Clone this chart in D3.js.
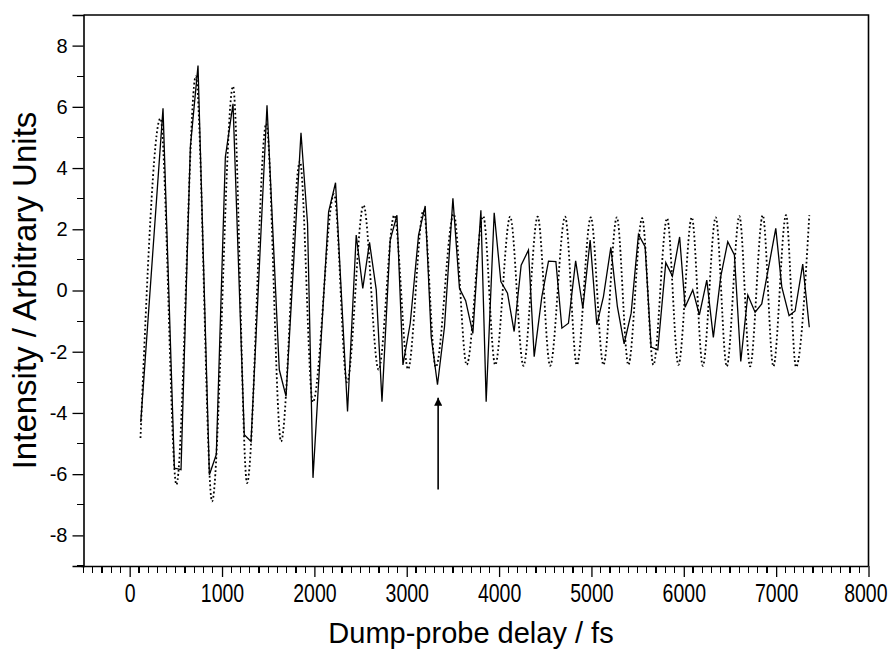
<!DOCTYPE html>
<html>
<head>
<meta charset="utf-8">
<script src="https://cdn.jsdelivr.net/npm/d3@7"></script>
<style>
    body { margin: 0; background: #fff; }
    #chart { width: 889px; height: 651px; }
    .axis path, .axis line { stroke: #000; }
    .axis text { fill: #000; }
</style>
</head>
<body>
<div id="chart"></div>
<script>

// measured trace (solid): delay in fs, intensity
const delays = [120, 361, 484, 556, 657, 740, 863, 938, 1036, 1119, 1241, 1314, 1487, 1620, 1693, 1855, 1926, 1985,
    2154, 2229, 2359, 2453, 2524, 2597, 2670, 2732, 2821, 2894, 2959, 3038, 3128, 3200, 3265, 3333, 3409, 3500,
    3571, 3638, 3716, 3803, 3860, 3947, 4019, 4091, 4163, 4239, 4318, 4380, 4463, 4535, 4615, 4680, 4751, 4829,
    4907, 4986, 5058, 5130, 5210, 5281, 5354, 5430, 5509, 5581, 5646, 5719, 5805, 5877, 5955, 6014, 6097, 6169,
    6249, 6320, 6400, 6476, 6548, 6617, 6693, 6772, 6844, 6916, 6996, 7061, 7140, 7205, 7288, 7359]
const signal = [-4.3, 5.95, -5.8, -5.85, 4.69, 7.35, -6.02, -5.36, 4.36, 6.1, -4.71, -4.93, 6.05, -2.59, -3.46, 5.15, 2.19, -6.12,
    2.57, 3.52, -3.95, 1.81, 0.07, 1.57, 0.02, -3.63, 1.65, 2.46, -2.43, -1.07, 1.81, 2.76, -1.51, -3.08, -1.18, 3.01,
    0.07, -0.33, -1.4, 2.62, -3.63, 2.54, 0.29, -0.09, -1.34, 0.83, 1.32, -2.16, -0.2, 0.96, 0.94, -1.23, -1.07, 0.97,
    -0.58, 1.65, -1.12, -0.2, 1.41, -0.53, -1.74, -0.74, 1.83, 1.43, -1.85, -1.94, 0.91, 0.47, 1.75, -0.55, 0.02, -0.8,
    0.34, -1.53, 0.45, 1.59, 1.16, -2.32, -0.15, -0.71, -0.44, 0.72, 2.03, 0.12, -0.82, -0.67, 0.86, -1.2]

// fitted trace (dotted): turning points
const fitDelays = [117, 333, 506, 716, 892, 1119, 1271, 1479, 1639, 1844, 1983, 2213, 2353, 2532, 2695, 2865, 3014,
    3182, 3314, 3509, 3649, 3828, 3958, 4120, 4264, 4418, 4553, 4715, 4842, 4993, 5130, 5275, 5400, 5549, 5671,
    5819, 5942, 6087, 6206, 6346, 6465, 6602, 6718, 6855, 6970, 7107, 7215, 7359]
const fitValues = [-4.82, 5.62, -6.34, 7.0, -6.89, 6.67, -6.29, 5.45, -4.93, 4.22, -3.65, 3.15, -3.0, 2.79, -2.59, 2.46, -2.57,
    2.62, -2.5, 2.5, -2.43, 2.43, -2.43, 2.41, -2.46, 2.41, -2.46, 2.41, -2.43, 2.39, -2.43, 2.39, -2.43, 2.36, -2.43,
    2.36, -2.43, 2.39, -2.46, 2.39, -2.48, 2.43, -2.48, 2.46, -2.48, 2.46, -2.5, 2.46]

const xTicks = [0, 1000, 2000, 3000, 4000, 5000, 6000, 7000, 8000]
const yTicks = [-8, -6, -4, -2, 0, 2, 4, 6, 8]
const yMinorTicks = [-9, -7, -5, -3, -1, 1, 3, 5, 7]

// arrow marking the delay of interest
const arrowDelay = 3340
const arrowFrom = -6.5
const arrowTo = -3.5


class DelayTrace {

    constructor(parentElement) {
        this.parentElement = parentElement;
        this.xLabel = 'Dump-probe delay / fs'
        this.yLabel = 'Intensity / Arbitrary Units'
        this.font = '"Liberation Sans", Arial, Helvetica, sans-serif'
        this.initVis()
    }

    initVis() {
        let vis = this;

        vis.margin = {top: 15, right: 20.5, bottom: 85, left: 83.5};
        vis.width = 889 - vis.margin.left - vis.margin.right;
        vis.height = 651 - vis.margin.top - vis.margin.bottom;

        vis.svg = d3.select("#" + vis.parentElement).append("svg")
            .attr("width", 889)
            .attr("height", 651)
            .append('g')
            .attr('transform', `translate (${vis.margin.left}, ${vis.margin.top})`);

        vis.x = d3.scaleLinear()
            .domain([-500, 8000])
            .range([0, vis.width])

        vis.y = d3.scaleLinear()
            .domain([-9, 9])
            .range([vis.height, 0])

        // arrow head
        vis.svg.append('defs')
            .append('marker')
            .attr('id', 'arrowHead')
            .attr('viewBox', '0 0 10 10')
            .attr('refX', 10)
            .attr('refY', 5)
            .attr('markerUnits', 'userSpaceOnUse')
            .attr('markerWidth', 14)
            .attr('markerHeight', 8)
            .attr('orient', 'auto')
            .append('path')
            .attr('d', 'M0,0 L10,5 L0,10 z')
            .attr('fill', '#000');

        vis.minorTicks = vis.svg.append('path')
            .attr('class', 'minor-ticks')
            .attr('fill', 'none')
            .attr('stroke', '#000')
            .attr('stroke-width', 1.2)
            .attr('shape-rendering', 'crispEdges');

        vis.xAxisGroup = vis.svg.append('g')
            .attr('class', 'axis x-axis')
            .attr('transform', `translate (0,${vis.height})`);
        vis.yAxisGroup = vis.svg.append('g')
            .attr('class', 'axis y-axis');

        // frame: top and right edges
        vis.svg.append('path')
            .attr('d', `M0,0 H${vis.width} V${vis.height}`)
            .attr('fill', 'none')
            .attr('stroke', '#000')
            .attr('stroke-width', 1.6);

        // titles
        vis.svg.append('text')
            .attr('class', 'x-title')
            .attr('x', vis.width / 2 - 5)
            .attr('y', vis.height + 77)
            .attr('text-anchor', 'middle')
            .style('font-family', vis.font)
            .style('font-size', '29px')
            .text(vis.xLabel);

        vis.svg.append('text')
            .attr('class', 'y-title')
            .attr('transform', `translate(${-47.5}, ${vis.y(0)}) rotate(-90)`)
            .attr('text-anchor', 'middle')
            .style('font-family', vis.font)
            .style('font-size', '33px')
            .text(vis.yLabel);

        vis.wrangleData()
    }

    wrangleData() {
        let vis = this

        vis.data = delays.map((d, i) => ({delay: d, value: signal[i]}))
        vis.fit = fitDelays.map((d, i) => ({delay: d, value: fitValues[i]}))
        vis.xMinor = d3.range(-500, 8001, 100).filter(t => xTicks.indexOf(t) < 0)

        vis.updateVis()
    }

    updateVis() {
        let vis = this

        // axes
        vis.xAxisGroup.call(d3.axisBottom(vis.x).tickValues(xTicks).tickSize(11).tickPadding(7).tickFormat(d => String(d)))
        vis.yAxisGroup.call(d3.axisLeft(vis.y).tickValues(yTicks).tickSize(11).tickPadding(5).tickFormat(d => String(d)))

        vis.xAxisGroup.select('.domain').attr('d', `M${-2},0.5H${vis.width}`)
        vis.svg.selectAll('.axis .domain').attr('stroke-width', 1.6)
        vis.svg.selectAll('.axis .tick line').attr('stroke-width', 1.3)

        // minor ticks, one path
        let minorPath = vis.xMinor.map(t => `M${vis.x(t)},${vis.height}v7`).join('')
            + yMinorTicks.map(t => `M0,${vis.y(t)}h-7`).join('')
        vis.minorTicks.attr('d', minorPath)

        // x labels are narrow in the original
        vis.xAxisGroup.selectAll('text')
            .style('font-family', vis.font)
            .style('font-size', '25px')
            .attr('transform', 'scale(0.78,1)')
            .attr('dx', d => d === 8000 ? -4 : 0)
        vis.yAxisGroup.selectAll('text')
            .style('font-family', vis.font)
            .style('font-size', '20px')

        let line = d3.line()
            .x(d => vis.x(d.delay))
            .y(d => vis.y(d.value))

        // fit, dotted
        vis.svg.append('path')
            .datum(vis.fit)
            .attr('class', 'fit')
            .attr('fill', 'none')
            .attr('stroke', '#000')
            .attr('stroke-width', 1.8)
            .attr('stroke-dasharray', '1.8 2.5')
            .attr('d', line.curve(d3.curveMonotoneX));

        // measured, solid
        vis.svg.append('path')
            .datum(vis.data)
            .attr('class', 'trace')
            .attr('fill', 'none')
            .attr('stroke', '#000')
            .attr('stroke-width', 1.3)
            .attr('d', d3.line().x(d => vis.x(d.delay)).y(d => vis.y(d.value)));

        // arrow
        vis.svg.append('line')
            .attr('x1', vis.x(arrowDelay))
            .attr('x2', vis.x(arrowDelay))
            .attr('y1', vis.y(arrowFrom))
            .attr('y2', vis.y(arrowTo))
            .attr('stroke', '#000')
            .attr('stroke-width', 1.6)
            .attr('marker-end', 'url(#arrowHead)');
    }
}

new DelayTrace('chart');

</script>
</body>
</html>
